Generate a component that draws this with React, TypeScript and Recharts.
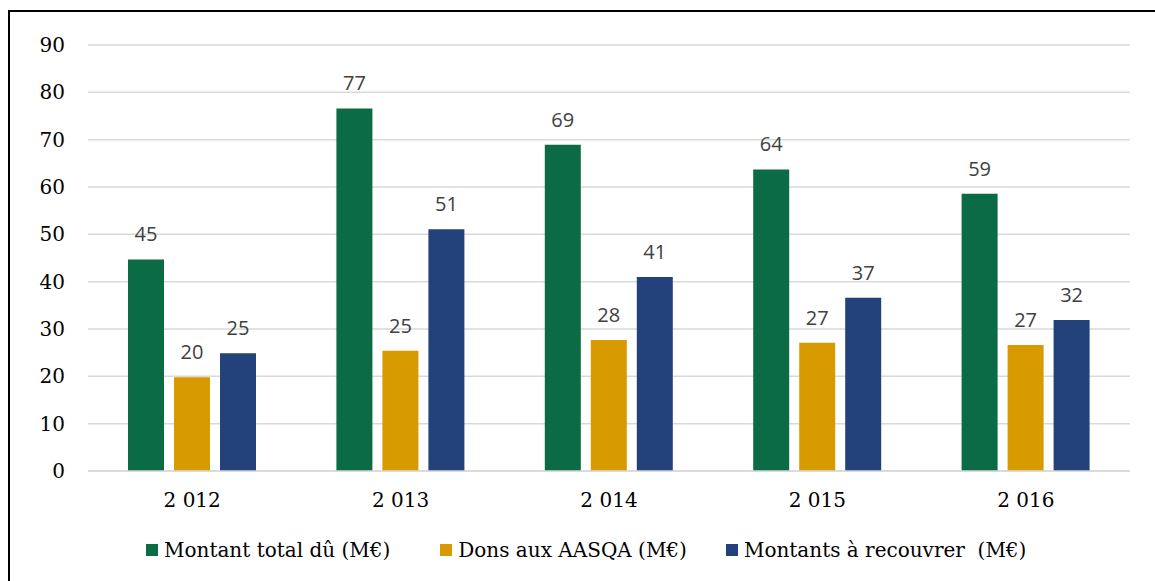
import { BarChart, Bar, XAxis, YAxis, CartesianGrid, Legend, LabelList } from 'recharts';

const years = ['2 012', '2 013', '2 014', '2 015', '2 016'];
const montantTotal = [44.7, 76.6, 68.9, 63.7, 58.6];
const dons = [19.8, 25.4, 27.7, 27.1, 26.6];
const recouvrer = [24.9, 51.1, 41.0, 36.6, 31.9];
const yTicks = [0, 10, 20, 30, 40, 50, 60, 70, 80, 90];

const series = [
  { key: 'total', label: 'Montant total dû (M€)', color: '#0b6b45' },
  { key: 'dons', label: 'Dons aux AASQA (M€)', color: '#d79b00' },
  { key: 'recouvrer', label: 'Montants à recouvrer  (M€)', color: '#23417a' },
];

const data = years.map((y, i) => ({
  year: y,
  total: montantTotal[i],
  dons: dons[i],
  recouvrer: recouvrer[i],
}));

const serif = '"DejaVu Serif", serif';

function LegendBox() {
  return (
    <div style={{ display: 'flex', height: 30, alignItems: 'center', paddingLeft: 136, fontFamily: serif, fontSize: 20, color: '#000' }}>
      {series.map((s, i) => (
        <div key={s.key} style={{ display: 'flex', alignItems: 'center', marginRight: i === 0 ? 50 : 39 }}>
          <span style={{ width: 12, height: 12, background: s.color, display: 'inline-block', marginRight: 6 }} />
          <span style={{ whiteSpace: 'pre' }}>{s.label}</span>
        </div>
      ))}
    </div>
  );
}

export default function App() {
  return (
    // frame runs off the right and bottom edges like the source image
    <div style={{ position: 'fixed', left: 8, top: 10, width: 1160, height: 580, borderTop: '2px solid #000', borderLeft: '2px solid #000', background: '#fff' }}>
      <BarChart
        width={1140}
        height={556}
        data={data}
        margin={{ top: 33, right: 20, bottom: 7, left: 0 }}
        barGap={10}
        barSize={36}
      >
        <CartesianGrid vertical={false} stroke="#d9d9d9" strokeWidth={1.5} />
        <XAxis
          dataKey="year"
          height={60}
          axisLine={{ stroke: '#d9d9d9', strokeWidth: 1.5 }}
          tickLine={false}
          tickSize={0}
          tickMargin={22}
          tick={{ fill: '#000', fontSize: 20, fontFamily: serif }}
        />
        <YAxis
          width={78}
          domain={[0, 90]}
          ticks={yTicks}
          axisLine={false}
          tickLine={false}
          tickSize={0}
          tickMargin={23}
          tick={{ fill: '#000', fontSize: 20, fontFamily: serif }}
        />
        <Legend
          verticalAlign="bottom"
          content={() => <LegendBox />}
          wrapperStyle={{ top: 523, bottom: 'auto', left: 0, width: 1140 }}
        />
        {series.map(s => (
          <Bar key={s.key} dataKey={s.key} name={s.label} fill={s.color} isAnimationActive={false}>
            <LabelList
              dataKey={s.key}
              position="top"
              offset={18}
              formatter={(v: unknown) => Math.round(Number(v))}
              style={{ fill: '#404040', fontSize: 20, fontFamily: '"Open Sans", sans-serif' }}
            />
          </Bar>
        ))}
      </BarChart>
    </div>
  );
}
